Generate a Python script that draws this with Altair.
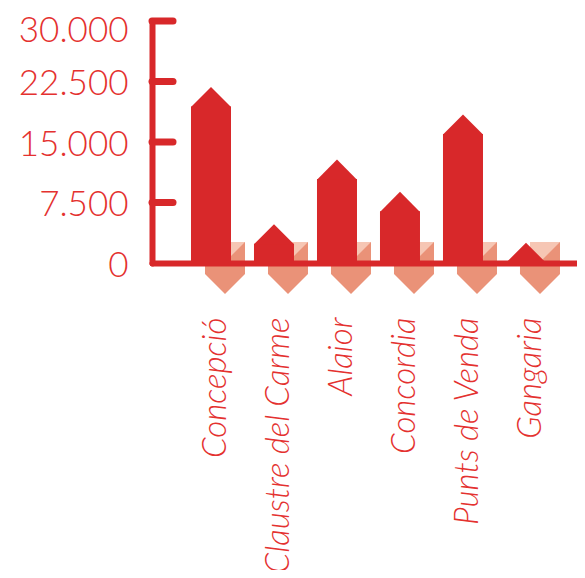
import altair as alt
import pandas as pd

categories = ["Concepció", "Claustre del Carme", "Alaior", "Concordia", "Punts de Venda", "Gangaria"]
values = [19400, 2400, 10400, 6400, 16000, 100]
y_ticks = [0, 7500, 15000, 22500, 30000]
inner_ticks = [7500, 15000, 22500, 30000]

RED = "#d8282a"
TEXT_RED = "#e4312f"
SALMON = "#ea9278"
PINK = "#f6c6b4"

df = pd.DataFrame({"cat": categories, "value": values})
ticks_df = pd.DataFrame({"t": inner_ticks})

x_enc = alt.X(
    "cat:N",
    sort=categories,
    scale=alt.Scale(type="band", paddingInner=0.365, paddingOuter=0.5556, align=0.557),
    axis=alt.Axis(
        title=None,
        domainColor=RED,
        domainWidth=6,
        domainCap="round",
        ticks=False,
        grid=False,
        labelAngle=-90,
        labelAlign="right",
        labelBaseline="middle",
        labelPadding=54,
        labelOffset=5,
        labelLimit=0,
        labelFont="Lato",
        labelFontWeight=300,
        labelFontStyle="italic",
        labelFontSize=33,
        labelColor=TEXT_RED,
        zindex=1,
    ),
)
y_scale = alt.Scale(domain=[0, 30000], nice=False)
y_axis = alt.Axis(
    title=None,
    values=y_ticks,
    domainColor=RED,
    domainWidth=6,
    domainCap="round",
    ticks=False,
    grid=False,
    labelPadding=24,
    labelOffset={"condition": {"test": "datum.value == 30000", "value": 9}, "value": 2},
    labelFont="Lato",
    labelFontWeight=300,
    labelFontSize=35,
    labelColor=TEXT_RED,
    labelExpr="replace(format(datum.value, ','), ',', '.')",
    zindex=1,
)

base = alt.Chart(df)

down_arrow = base.mark_point(
    shape="M-6,3L34,3L34,11L14,31L-6,11Z", filled=True, size=4, color=SALMON, opacity=1, strokeWidth=0
).encode(x=x_enc, y=alt.datum(0, scale=y_scale, axis=y_axis))

pink_sq = base.mark_point(
    shape="M4,-21L34,-21L34,0L4,0Z", filled=True, size=4, color=PINK, opacity=1, strokeWidth=0
).encode(x=x_enc, y=alt.datum(0))

dark_tri = base.mark_point(
    shape="M34,-21L34,0L13,0Z", filled=True, size=4, color=SALMON, opacity=1, strokeWidth=0
).encode(x=x_enc, y=alt.datum(0))

bars = base.mark_bar(color=RED).encode(
    x=x_enc, y=alt.Y("value:Q"), y2=alt.datum(0)
)

heads = base.mark_point(
    shape="M-20,0.6L0,-19.5L20,0.6Z", filled=True, size=4, color=RED, opacity=1, strokeWidth=0
).encode(x=x_enc, y=alt.Y("value:Q"))

tick_rules = alt.Chart(ticks_df).mark_rule(color=RED, strokeWidth=7, strokeCap="round").encode(
    y=alt.Y("t:Q"), x=alt.value(0), x2=alt.value(21)
)

chart = (
    alt.layer(down_arrow, pink_sq, dark_tri, bars, heads, tick_rules)
    .properties(
        width=425,
        height=242,
        background="white",
        autosize=alt.AutoSizeParams(type="none"),
        padding={"left": 144, "top": 13, "right": 0, "bottom": 307},
    )
    .configure_view(strokeWidth=0, stroke="transparent")
    .configure_axis(grid=False)
)

chart.save("out.html", embed_options={"renderer": "svg", "actions": False})
